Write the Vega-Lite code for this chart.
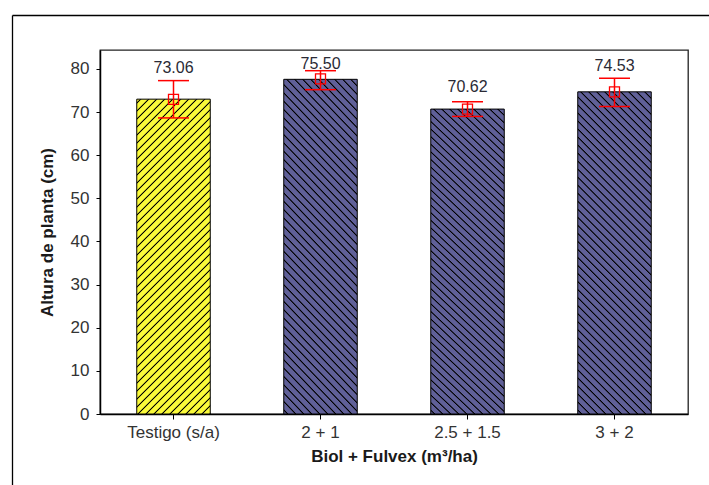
{
  "$schema": "https://vega.github.io/schema/vega-lite/v6.json",
  "width": 588,
  "height": 364,
  "autosize": {"type": "none"},
  "padding": {"left": 100, "top": 50, "right": 21, "bottom": 71},
  "background": "#ffffff",
  "data": {
    "values": [
      {"trat": "Testigo (s/a)", "bar": 73.0, "mean": 72.95, "lo": 68.65, "hi": 77.3, "label": "73.06", "label_y": 79.0},
      {"trat": "2 + 1", "bar": 77.6, "mean": 77.7, "lo": 75.2, "hi": 79.6, "label": "75.50", "label_y": 79.9},
      {"trat": "2.5 + 1.5", "bar": 70.7, "mean": 70.7, "lo": 69.0, "hi": 72.4, "label": "70.62", "label_y": 74.7},
      {"trat": "3 + 2", "bar": 74.7, "mean": 74.7, "lo": 71.3, "hi": 77.85, "label": "74.53", "label_y": 79.6}
    ]
  },
  "resolve": {"scale": {"x": "independent", "y": "independent"}, "axis": {"x": "independent", "y": "independent"}},
  "layer": [
    {
      "layer": [
        {
          "mark": {"type": "bar", "stroke": "#000", "strokeWidth": 1},
          "encoding": {
            "x": {"field": "trat", "type": "nominal", "sort": null,
              "scale": {"paddingInner": 0.5, "paddingOuter": 0.25},
              "axis": {"title": "Biol + Fulvex (m³/ha)", "labelAngle": 0, "tickSize": 5, "labelPadding": 5, "titlePadding": 8}},
            "y": {"field": "bar", "type": "quantitative",
              "scale": {"domain": [0, 84.4], "nice": false, "zero": true},
              "axis": {"title": "Altura de planta (cm)", "values": [0, 10, 20, 30, 40, 50, 60, 70, 80], "tickSize": 4, "labelPadding": 7, "titlePadding": 14}},
            "fill": {
              "condition": {"test": "datum.trat === 'Testigo (s/a)'",
                "value": {"gradient": "linear", "x1": 0, "y1": 0, "x2": 0.281336, "y2": 1.20496,
                  "stops": [
{"offset":0.006875,"color":"#fafa3a"},{"offset":0.009375,"color":"#000"},{"offset":0.010625,"color":"#000"},{"offset":0.013125,"color":"#fafa3a"},
{"offset":0.026875,"color":"#fafa3a"},{"offset":0.029375,"color":"#000"},{"offset":0.030625,"color":"#000"},{"offset":0.033125,"color":"#fafa3a"},
{"offset":0.046875,"color":"#fafa3a"},{"offset":0.049375,"color":"#000"},{"offset":0.050625,"color":"#000"},{"offset":0.053125,"color":"#fafa3a"},
{"offset":0.066875,"color":"#fafa3a"},{"offset":0.069375,"color":"#000"},{"offset":0.070625,"color":"#000"},{"offset":0.073125,"color":"#fafa3a"},
{"offset":0.086875,"color":"#fafa3a"},{"offset":0.089375,"color":"#000"},{"offset":0.090625,"color":"#000"},{"offset":0.093125,"color":"#fafa3a"},
{"offset":0.106875,"color":"#fafa3a"},{"offset":0.109375,"color":"#000"},{"offset":0.110625,"color":"#000"},{"offset":0.113125,"color":"#fafa3a"},
{"offset":0.126875,"color":"#fafa3a"},{"offset":0.129375,"color":"#000"},{"offset":0.130625,"color":"#000"},{"offset":0.133125,"color":"#fafa3a"},
{"offset":0.146875,"color":"#fafa3a"},{"offset":0.149375,"color":"#000"},{"offset":0.150625,"color":"#000"},{"offset":0.153125,"color":"#fafa3a"},
{"offset":0.166875,"color":"#fafa3a"},{"offset":0.169375,"color":"#000"},{"offset":0.170625,"color":"#000"},{"offset":0.173125,"color":"#fafa3a"},
{"offset":0.186875,"color":"#fafa3a"},{"offset":0.189375,"color":"#000"},{"offset":0.190625,"color":"#000"},{"offset":0.193125,"color":"#fafa3a"},
{"offset":0.206875,"color":"#fafa3a"},{"offset":0.209375,"color":"#000"},{"offset":0.210625,"color":"#000"},{"offset":0.213125,"color":"#fafa3a"},
{"offset":0.226875,"color":"#fafa3a"},{"offset":0.229375,"color":"#000"},{"offset":0.230625,"color":"#000"},{"offset":0.233125,"color":"#fafa3a"},
{"offset":0.246875,"color":"#fafa3a"},{"offset":0.249375,"color":"#000"},{"offset":0.250625,"color":"#000"},{"offset":0.253125,"color":"#fafa3a"},
{"offset":0.266875,"color":"#fafa3a"},{"offset":0.269375,"color":"#000"},{"offset":0.270625,"color":"#000"},{"offset":0.273125,"color":"#fafa3a"},
{"offset":0.286875,"color":"#fafa3a"},{"offset":0.289375,"color":"#000"},{"offset":0.290625,"color":"#000"},{"offset":0.293125,"color":"#fafa3a"},
{"offset":0.306875,"color":"#fafa3a"},{"offset":0.309375,"color":"#000"},{"offset":0.310625,"color":"#000"},{"offset":0.313125,"color":"#fafa3a"},
{"offset":0.326875,"color":"#fafa3a"},{"offset":0.329375,"color":"#000"},{"offset":0.330625,"color":"#000"},{"offset":0.333125,"color":"#fafa3a"},
{"offset":0.346875,"color":"#fafa3a"},{"offset":0.349375,"color":"#000"},{"offset":0.350625,"color":"#000"},{"offset":0.353125,"color":"#fafa3a"},
{"offset":0.366875,"color":"#fafa3a"},{"offset":0.369375,"color":"#000"},{"offset":0.370625,"color":"#000"},{"offset":0.373125,"color":"#fafa3a"},
{"offset":0.386875,"color":"#fafa3a"},{"offset":0.389375,"color":"#000"},{"offset":0.390625,"color":"#000"},{"offset":0.393125,"color":"#fafa3a"},
{"offset":0.406875,"color":"#fafa3a"},{"offset":0.409375,"color":"#000"},{"offset":0.410625,"color":"#000"},{"offset":0.413125,"color":"#fafa3a"},
{"offset":0.426875,"color":"#fafa3a"},{"offset":0.429375,"color":"#000"},{"offset":0.430625,"color":"#000"},{"offset":0.433125,"color":"#fafa3a"},
{"offset":0.446875,"color":"#fafa3a"},{"offset":0.449375,"color":"#000"},{"offset":0.450625,"color":"#000"},{"offset":0.453125,"color":"#fafa3a"},
{"offset":0.466875,"color":"#fafa3a"},{"offset":0.469375,"color":"#000"},{"offset":0.470625,"color":"#000"},{"offset":0.473125,"color":"#fafa3a"},
{"offset":0.486875,"color":"#fafa3a"},{"offset":0.489375,"color":"#000"},{"offset":0.490625,"color":"#000"},{"offset":0.493125,"color":"#fafa3a"},
{"offset":0.506875,"color":"#fafa3a"},{"offset":0.509375,"color":"#000"},{"offset":0.510625,"color":"#000"},{"offset":0.513125,"color":"#fafa3a"},
{"offset":0.526875,"color":"#fafa3a"},{"offset":0.529375,"color":"#000"},{"offset":0.530625,"color":"#000"},{"offset":0.533125,"color":"#fafa3a"},
{"offset":0.546875,"color":"#fafa3a"},{"offset":0.549375,"color":"#000"},{"offset":0.550625,"color":"#000"},{"offset":0.553125,"color":"#fafa3a"},
{"offset":0.566875,"color":"#fafa3a"},{"offset":0.569375,"color":"#000"},{"offset":0.570625,"color":"#000"},{"offset":0.573125,"color":"#fafa3a"},
{"offset":0.586875,"color":"#fafa3a"},{"offset":0.589375,"color":"#000"},{"offset":0.590625,"color":"#000"},{"offset":0.593125,"color":"#fafa3a"},
{"offset":0.606875,"color":"#fafa3a"},{"offset":0.609375,"color":"#000"},{"offset":0.610625,"color":"#000"},{"offset":0.613125,"color":"#fafa3a"},
{"offset":0.626875,"color":"#fafa3a"},{"offset":0.629375,"color":"#000"},{"offset":0.630625,"color":"#000"},{"offset":0.633125,"color":"#fafa3a"},
{"offset":0.646875,"color":"#fafa3a"},{"offset":0.649375,"color":"#000"},{"offset":0.650625,"color":"#000"},{"offset":0.653125,"color":"#fafa3a"},
{"offset":0.666875,"color":"#fafa3a"},{"offset":0.669375,"color":"#000"},{"offset":0.670625,"color":"#000"},{"offset":0.673125,"color":"#fafa3a"},
{"offset":0.686875,"color":"#fafa3a"},{"offset":0.689375,"color":"#000"},{"offset":0.690625,"color":"#000"},{"offset":0.693125,"color":"#fafa3a"},
{"offset":0.706875,"color":"#fafa3a"},{"offset":0.709375,"color":"#000"},{"offset":0.710625,"color":"#000"},{"offset":0.713125,"color":"#fafa3a"},
{"offset":0.726875,"color":"#fafa3a"},{"offset":0.729375,"color":"#000"},{"offset":0.730625,"color":"#000"},{"offset":0.733125,"color":"#fafa3a"},
{"offset":0.746875,"color":"#fafa3a"},{"offset":0.749375,"color":"#000"},{"offset":0.750625,"color":"#000"},{"offset":0.753125,"color":"#fafa3a"},
{"offset":0.766875,"color":"#fafa3a"},{"offset":0.769375,"color":"#000"},{"offset":0.770625,"color":"#000"},{"offset":0.773125,"color":"#fafa3a"},
{"offset":0.786875,"color":"#fafa3a"},{"offset":0.789375,"color":"#000"},{"offset":0.790625,"color":"#000"},{"offset":0.793125,"color":"#fafa3a"},
{"offset":0.806875,"color":"#fafa3a"},{"offset":0.809375,"color":"#000"},{"offset":0.810625,"color":"#000"},{"offset":0.813125,"color":"#fafa3a"},
{"offset":0.826875,"color":"#fafa3a"},{"offset":0.829375,"color":"#000"},{"offset":0.830625,"color":"#000"},{"offset":0.833125,"color":"#fafa3a"},
{"offset":0.846875,"color":"#fafa3a"},{"offset":0.849375,"color":"#000"},{"offset":0.850625,"color":"#000"},{"offset":0.853125,"color":"#fafa3a"},
{"offset":0.866875,"color":"#fafa3a"},{"offset":0.869375,"color":"#000"},{"offset":0.870625,"color":"#000"},{"offset":0.873125,"color":"#fafa3a"},
{"offset":0.886875,"color":"#fafa3a"},{"offset":0.889375,"color":"#000"},{"offset":0.890625,"color":"#000"},{"offset":0.893125,"color":"#fafa3a"},
{"offset":0.906875,"color":"#fafa3a"},{"offset":0.909375,"color":"#000"},{"offset":0.910625,"color":"#000"},{"offset":0.913125,"color":"#fafa3a"},
{"offset":0.926875,"color":"#fafa3a"},{"offset":0.929375,"color":"#000"},{"offset":0.930625,"color":"#000"},{"offset":0.933125,"color":"#fafa3a"},
{"offset":0.946875,"color":"#fafa3a"},{"offset":0.949375,"color":"#000"},{"offset":0.950625,"color":"#000"},{"offset":0.953125,"color":"#fafa3a"},
{"offset":0.966875,"color":"#fafa3a"},{"offset":0.969375,"color":"#000"},{"offset":0.970625,"color":"#000"},{"offset":0.973125,"color":"#fafa3a"},
{"offset":0.986875,"color":"#fafa3a"},{"offset":0.989375,"color":"#000"},{"offset":0.990625,"color":"#000"},{"offset":0.993125,"color":"#fafa3a"}
                  ]}},
              "value": {"gradient": "linear", "x1": 0, "y1": 1, "x2": 0.271112, "y2": -0.184041,
                "stops": [
{"offset":0.006875,"color":"#606098"},{"offset":0.009375,"color":"#000"},{"offset":0.010625,"color":"#000"},{"offset":0.013125,"color":"#606098"},
{"offset":0.026875,"color":"#606098"},{"offset":0.029375,"color":"#000"},{"offset":0.030625,"color":"#000"},{"offset":0.033125,"color":"#606098"},
{"offset":0.046875,"color":"#606098"},{"offset":0.049375,"color":"#000"},{"offset":0.050625,"color":"#000"},{"offset":0.053125,"color":"#606098"},
{"offset":0.066875,"color":"#606098"},{"offset":0.069375,"color":"#000"},{"offset":0.070625,"color":"#000"},{"offset":0.073125,"color":"#606098"},
{"offset":0.086875,"color":"#606098"},{"offset":0.089375,"color":"#000"},{"offset":0.090625,"color":"#000"},{"offset":0.093125,"color":"#606098"},
{"offset":0.106875,"color":"#606098"},{"offset":0.109375,"color":"#000"},{"offset":0.110625,"color":"#000"},{"offset":0.113125,"color":"#606098"},
{"offset":0.126875,"color":"#606098"},{"offset":0.129375,"color":"#000"},{"offset":0.130625,"color":"#000"},{"offset":0.133125,"color":"#606098"},
{"offset":0.146875,"color":"#606098"},{"offset":0.149375,"color":"#000"},{"offset":0.150625,"color":"#000"},{"offset":0.153125,"color":"#606098"},
{"offset":0.166875,"color":"#606098"},{"offset":0.169375,"color":"#000"},{"offset":0.170625,"color":"#000"},{"offset":0.173125,"color":"#606098"},
{"offset":0.186875,"color":"#606098"},{"offset":0.189375,"color":"#000"},{"offset":0.190625,"color":"#000"},{"offset":0.193125,"color":"#606098"},
{"offset":0.206875,"color":"#606098"},{"offset":0.209375,"color":"#000"},{"offset":0.210625,"color":"#000"},{"offset":0.213125,"color":"#606098"},
{"offset":0.226875,"color":"#606098"},{"offset":0.229375,"color":"#000"},{"offset":0.230625,"color":"#000"},{"offset":0.233125,"color":"#606098"},
{"offset":0.246875,"color":"#606098"},{"offset":0.249375,"color":"#000"},{"offset":0.250625,"color":"#000"},{"offset":0.253125,"color":"#606098"},
{"offset":0.266875,"color":"#606098"},{"offset":0.269375,"color":"#000"},{"offset":0.270625,"color":"#000"},{"offset":0.273125,"color":"#606098"},
{"offset":0.286875,"color":"#606098"},{"offset":0.289375,"color":"#000"},{"offset":0.290625,"color":"#000"},{"offset":0.293125,"color":"#606098"},
{"offset":0.306875,"color":"#606098"},{"offset":0.309375,"color":"#000"},{"offset":0.310625,"color":"#000"},{"offset":0.313125,"color":"#606098"},
{"offset":0.326875,"color":"#606098"},{"offset":0.329375,"color":"#000"},{"offset":0.330625,"color":"#000"},{"offset":0.333125,"color":"#606098"},
{"offset":0.346875,"color":"#606098"},{"offset":0.349375,"color":"#000"},{"offset":0.350625,"color":"#000"},{"offset":0.353125,"color":"#606098"},
{"offset":0.366875,"color":"#606098"},{"offset":0.369375,"color":"#000"},{"offset":0.370625,"color":"#000"},{"offset":0.373125,"color":"#606098"},
{"offset":0.386875,"color":"#606098"},{"offset":0.389375,"color":"#000"},{"offset":0.390625,"color":"#000"},{"offset":0.393125,"color":"#606098"},
{"offset":0.406875,"color":"#606098"},{"offset":0.409375,"color":"#000"},{"offset":0.410625,"color":"#000"},{"offset":0.413125,"color":"#606098"},
{"offset":0.426875,"color":"#606098"},{"offset":0.429375,"color":"#000"},{"offset":0.430625,"color":"#000"},{"offset":0.433125,"color":"#606098"},
{"offset":0.446875,"color":"#606098"},{"offset":0.449375,"color":"#000"},{"offset":0.450625,"color":"#000"},{"offset":0.453125,"color":"#606098"},
{"offset":0.466875,"color":"#606098"},{"offset":0.469375,"color":"#000"},{"offset":0.470625,"color":"#000"},{"offset":0.473125,"color":"#606098"},
{"offset":0.486875,"color":"#606098"},{"offset":0.489375,"color":"#000"},{"offset":0.490625,"color":"#000"},{"offset":0.493125,"color":"#606098"},
{"offset":0.506875,"color":"#606098"},{"offset":0.509375,"color":"#000"},{"offset":0.510625,"color":"#000"},{"offset":0.513125,"color":"#606098"},
{"offset":0.526875,"color":"#606098"},{"offset":0.529375,"color":"#000"},{"offset":0.530625,"color":"#000"},{"offset":0.533125,"color":"#606098"},
{"offset":0.546875,"color":"#606098"},{"offset":0.549375,"color":"#000"},{"offset":0.550625,"color":"#000"},{"offset":0.553125,"color":"#606098"},
{"offset":0.566875,"color":"#606098"},{"offset":0.569375,"color":"#000"},{"offset":0.570625,"color":"#000"},{"offset":0.573125,"color":"#606098"},
{"offset":0.586875,"color":"#606098"},{"offset":0.589375,"color":"#000"},{"offset":0.590625,"color":"#000"},{"offset":0.593125,"color":"#606098"},
{"offset":0.606875,"color":"#606098"},{"offset":0.609375,"color":"#000"},{"offset":0.610625,"color":"#000"},{"offset":0.613125,"color":"#606098"},
{"offset":0.626875,"color":"#606098"},{"offset":0.629375,"color":"#000"},{"offset":0.630625,"color":"#000"},{"offset":0.633125,"color":"#606098"},
{"offset":0.646875,"color":"#606098"},{"offset":0.649375,"color":"#000"},{"offset":0.650625,"color":"#000"},{"offset":0.653125,"color":"#606098"},
{"offset":0.666875,"color":"#606098"},{"offset":0.669375,"color":"#000"},{"offset":0.670625,"color":"#000"},{"offset":0.673125,"color":"#606098"},
{"offset":0.686875,"color":"#606098"},{"offset":0.689375,"color":"#000"},{"offset":0.690625,"color":"#000"},{"offset":0.693125,"color":"#606098"},
{"offset":0.706875,"color":"#606098"},{"offset":0.709375,"color":"#000"},{"offset":0.710625,"color":"#000"},{"offset":0.713125,"color":"#606098"},
{"offset":0.726875,"color":"#606098"},{"offset":0.729375,"color":"#000"},{"offset":0.730625,"color":"#000"},{"offset":0.733125,"color":"#606098"},
{"offset":0.746875,"color":"#606098"},{"offset":0.749375,"color":"#000"},{"offset":0.750625,"color":"#000"},{"offset":0.753125,"color":"#606098"},
{"offset":0.766875,"color":"#606098"},{"offset":0.769375,"color":"#000"},{"offset":0.770625,"color":"#000"},{"offset":0.773125,"color":"#606098"},
{"offset":0.786875,"color":"#606098"},{"offset":0.789375,"color":"#000"},{"offset":0.790625,"color":"#000"},{"offset":0.793125,"color":"#606098"},
{"offset":0.806875,"color":"#606098"},{"offset":0.809375,"color":"#000"},{"offset":0.810625,"color":"#000"},{"offset":0.813125,"color":"#606098"},
{"offset":0.826875,"color":"#606098"},{"offset":0.829375,"color":"#000"},{"offset":0.830625,"color":"#000"},{"offset":0.833125,"color":"#606098"},
{"offset":0.846875,"color":"#606098"},{"offset":0.849375,"color":"#000"},{"offset":0.850625,"color":"#000"},{"offset":0.853125,"color":"#606098"},
{"offset":0.866875,"color":"#606098"},{"offset":0.869375,"color":"#000"},{"offset":0.870625,"color":"#000"},{"offset":0.873125,"color":"#606098"},
{"offset":0.886875,"color":"#606098"},{"offset":0.889375,"color":"#000"},{"offset":0.890625,"color":"#000"},{"offset":0.893125,"color":"#606098"},
{"offset":0.906875,"color":"#606098"},{"offset":0.909375,"color":"#000"},{"offset":0.910625,"color":"#000"},{"offset":0.913125,"color":"#606098"},
{"offset":0.926875,"color":"#606098"},{"offset":0.929375,"color":"#000"},{"offset":0.930625,"color":"#000"},{"offset":0.933125,"color":"#606098"},
{"offset":0.946875,"color":"#606098"},{"offset":0.949375,"color":"#000"},{"offset":0.950625,"color":"#000"},{"offset":0.953125,"color":"#606098"},
{"offset":0.966875,"color":"#606098"},{"offset":0.969375,"color":"#000"},{"offset":0.970625,"color":"#000"},{"offset":0.973125,"color":"#606098"},
{"offset":0.986875,"color":"#606098"},{"offset":0.989375,"color":"#000"},{"offset":0.990625,"color":"#000"},{"offset":0.993125,"color":"#606098"}
                ]}
            }
          }
        },
        {
          "mark": {"type": "rule", "color": "#ff0000", "strokeWidth": 1.5},
          "encoding": {
            "x": {"field": "trat", "type": "nominal", "sort": null, "axis": {"title": "Biol + Fulvex (m³/ha)", "labelAngle": 0, "tickSize": 5, "labelPadding": 5, "titlePadding": 8}},
            "y": {"field": "lo", "type": "quantitative", "scale": {"domain": [0, 84.4], "nice": false},
              "axis": {"title": "Altura de planta (cm)", "values": [0, 10, 20, 30, 40, 50, 60, 70, 80], "tickSize": 4, "labelPadding": 7, "titlePadding": 14}},
            "y2": {"field": "hi"}
          }
        },
        {
          "mark": {"type": "tick", "color": "#ff0000", "size": 31, "thickness": 1.5, "opacity": 1},
          "encoding": {
            "x": {"field": "trat", "type": "nominal", "sort": null, "axis": {"title": "Biol + Fulvex (m³/ha)", "labelAngle": 0, "tickSize": 5, "labelPadding": 5, "titlePadding": 8}},
            "y": {"field": "hi", "type": "quantitative", "scale": {"domain": [0, 84.4], "nice": false},
              "axis": {"title": "Altura de planta (cm)", "values": [0, 10, 20, 30, 40, 50, 60, 70, 80], "tickSize": 4, "labelPadding": 7, "titlePadding": 14}}
          }
        },
        {
          "mark": {"type": "tick", "color": "#ff0000", "size": 31, "thickness": 1.5, "opacity": 1},
          "encoding": {
            "x": {"field": "trat", "type": "nominal", "sort": null, "axis": {"title": "Biol + Fulvex (m³/ha)", "labelAngle": 0, "tickSize": 5, "labelPadding": 5, "titlePadding": 8}},
            "y": {"field": "lo", "type": "quantitative", "scale": {"domain": [0, 84.4], "nice": false},
              "axis": {"title": "Altura de planta (cm)", "values": [0, 10, 20, 30, 40, 50, 60, 70, 80], "tickSize": 4, "labelPadding": 7, "titlePadding": 14}}
          }
        },
        {
          "mark": {"type": "point", "shape": "square", "size": 100, "filled": false, "stroke": "#ff0000", "strokeWidth": 1.3, "opacity": 1},
          "encoding": {
            "x": {"field": "trat", "type": "nominal", "sort": null, "axis": {"title": "Biol + Fulvex (m³/ha)", "labelAngle": 0, "tickSize": 5, "labelPadding": 5, "titlePadding": 8}},
            "y": {"field": "mean", "type": "quantitative", "scale": {"domain": [0, 84.4], "nice": false},
              "axis": {"title": "Altura de planta (cm)", "values": [0, 10, 20, 30, 40, 50, 60, 70, 80], "tickSize": 4, "labelPadding": 7, "titlePadding": 14}}
          }
        },
        {
          "mark": {"type": "text", "font": "Liberation Sans", "fontSize": 16, "color": "#2a2a35", "baseline": "alphabetic", "align": "center"},
          "encoding": {
            "x": {"field": "trat", "type": "nominal", "sort": null, "axis": {"title": "Biol + Fulvex (m³/ha)", "labelAngle": 0, "tickSize": 5, "labelPadding": 5, "titlePadding": 8}},
            "y": {"field": "label_y", "type": "quantitative", "scale": {"domain": [0, 84.4], "nice": false},
              "axis": {"title": "Altura de planta (cm)", "values": [0, 10, 20, 30, 40, 50, 60, 70, 80], "tickSize": 4, "labelPadding": 7, "titlePadding": 14}},
            "text": {"field": "label"}
          }
        }
      ]
    },
    {
      "mark": {"type": "point", "opacity": 0},
      "encoding": {
        "x": {"field": "bar", "type": "quantitative",
          "scale": {"domain": [0, 1], "range": [-88, 640]},
          "axis": {"orient": "top", "offset": 35, "domain": true, "domainColor": "#000", "domainWidth": 1.3, "ticks": false, "labels": false, "grid": false, "title": null}},
        "y": {"field": "bar", "type": "quantitative",
          "scale": {"domain": [0, 1], "range": [460, -35]},
          "axis": {"orient": "right", "offset": -676, "domain": true, "domainColor": "#000", "domainWidth": 1.3, "ticks": false, "labels": false, "grid": false, "title": null}}
      }
    }
  ],
  "config": {
    "view": {"stroke": "#222", "strokeWidth": 1.3},
    "axis": {
      "grid": false,
      "domainColor": "#000",
      "domainWidth": 1.5,
      "tickColor": "#000",
      "tickWidth": 1,
      "labelFont": "Liberation Sans",
      "labelFontSize": 17,
      "labelColor": "#333",
      "titleFont": "Liberation Sans",
      "titleFontSize": 17,
      "titleFontWeight": "bold",
      "titleColor": "#1a1a1a"
    }
  }
}
